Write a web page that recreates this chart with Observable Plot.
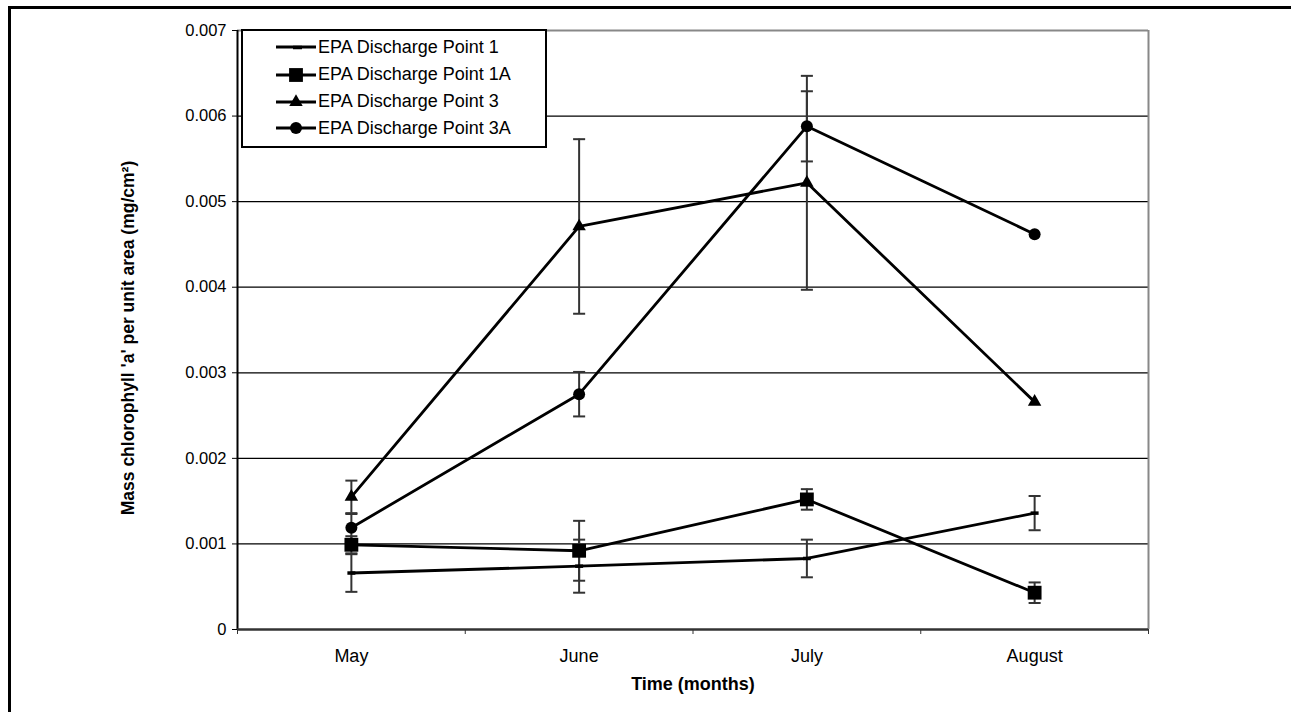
<!DOCTYPE html>
<html><head><meta charset="utf-8">
<script src="https://cdn.jsdelivr.net/npm/d3@7"></script>
<script src="https://cdn.jsdelivr.net/npm/@observablehq/plot@0.6"></script>
<style>
body{margin:0;background:#fff;font-family:"Liberation Sans",Arial,sans-serif;}
#wrap{position:relative;width:1291px;height:712px;overflow:hidden;background:#fff;}
#frame{position:absolute;left:8px;top:6px;width:1400px;height:800px;border-top:3px solid #000;border-left:3px solid #000;box-sizing:border-box;}
#chart{position:absolute;left:0;top:0;}
#legend{position:absolute;left:241px;top:29px;width:306px;height:119px;border:2.5px solid #000;background:#fff;box-sizing:border-box;}
.lrow{position:absolute;left:0;height:24px;display:flex;align-items:center;font-size:18px;color:#000;white-space:nowrap;}
.lrow svg{margin-left:33px;margin-right:2px;}
</style></head>
<body>
<div id="wrap"><div id="frame"></div><div id="chart"></div><div id="legend"></div></div>
<script>
const months = ["May", "June", "July", "August"];
const seriesNames = ["EPA Discharge Point 1", "EPA Discharge Point 1A", "EPA Discharge Point 3", "EPA Discharge Point 3A"];
const p1 = [0.00066, 0.00074, 0.00083, 0.00136];
const p1Err = [0.00022, 0.00031, 0.00022, 0.00020];
const p1A = [0.00099, 0.00092, 0.00152, 0.00043];
const p1AErr = [0.00010, 0.00035, 0.00012, 0.00012];
const p3 = [0.00155, 0.00471, 0.00522, 0.00266];
const p3Err = [0.00019, 0.00102, 0.00125, 0];
const p3A = [0.00119, 0.00275, 0.00588, 0.00462];
const p3AErr = [0.00016, 0.00026, 0.00041, 0];
const yTicks = [0, 0.001, 0.002, 0.003, 0.004, 0.005, 0.006, 0.007];
const yTitle = "Mass chlorophyll 'a' per unit area (mg/cm²)";
const xTitle = "Time (months)";

const seriesVals = [p1, p1A, p3, p3A];
const seriesErrs = [p1Err, p1AErr, p3Err, p3AErr];
const rows = [];
seriesNames.forEach((s, si) => months.forEach((m, mi) => rows.push({series: s, si, x: mi + 0.5, month: m, v: seriesVals[si][mi], e: seriesErrs[si][mi]})));
const errRows = rows.filter(d => d.e > 0);
const capRows = errRows.flatMap(d => [{x: d.x, y: d.v - d.e}, {x: d.x, y: d.v + d.e}]);

const hline = {draw(ctx, size){ const w = Math.sqrt(size); ctx.moveTo(-w/2, 0); ctx.lineTo(w/2, 0); }};
const rFor = [0, 7.8, 5.0, 6.0];
const fmt = d => d === 0 ? "0" : d.toFixed(3);

const chart = Plot.plot({
  width: 1291, height: 712,
  marginLeft: 237, marginRight: 143, marginTop: 30, marginBottom: 83,
  style: {fontFamily: "'Liberation Sans', Arial, sans-serif", background: "transparent", color: "#000"},
  x: {domain: [0, 4]},
  y: {domain: [0, 0.007]},
  marks: [
    Plot.ruleY(yTicks.filter(t => t > 0 && t < 0.007), {stroke: "#000", strokeWidth: 1.2}),
    Plot.ruleY([0.007], {stroke: "#888", strokeWidth: 2}),
    Plot.ruleX([4], {stroke: "#888", strokeWidth: 2}),
    Plot.axisY({ticks: yTicks, tickFormat: fmt, tickSize: 5, tickPadding: 6, fontSize: 16.5, label: null, stroke: "#000"}),
    Plot.axisX({ticks: [0, 1, 2, 3, 4], tickFormat: () => "", tickSize: 5, label: null, stroke: "#333"}),
    Plot.axisX({ticks: months.map((m, i) => i + 0.5), tickFormat: d => months[Math.round(d - 0.5)], tickSize: 0, tickPadding: 20, fontSize: 18, label: null}),
    Plot.ruleX([0], {stroke: "#000", strokeWidth: 2}),
    Plot.ruleY([0], {stroke: "#333", strokeWidth: 2.5}),
    Plot.ruleX(errRows, {x: "x", y1: d => d.v - d.e, y2: d => d.v + d.e, stroke: "#333", strokeWidth: 2}),
    Plot.dot(capRows, {x: "x", y: "y", symbol: hline, r: 6.8, stroke: "#333", strokeWidth: 2, fill: "none"}),
    Plot.line(rows, {x: "x", y: "v", z: "series", stroke: "#000", strokeWidth: 2.8}),
    Plot.dot(rows.filter(d => d.si === 0), {x: "x", y: "v", symbol: hline, r: 4.5, stroke: "#000", strokeWidth: 3.5}),
    Plot.dot(rows.filter(d => d.si === 1), {x: "x", y: "v", symbol: "square", r: rFor[1], fill: "#000", stroke: "none"}),
    Plot.dot(rows.filter(d => d.si === 2), {x: "x", y: "v", symbol: "triangle", r: rFor[2], fill: "#000", stroke: "none"}),
    Plot.dot(rows.filter(d => d.si === 3), {x: "x", y: "v", symbol: "circle", r: rFor[3], fill: "#000", stroke: "none"}),
    Plot.text([yTitle], {frameAnchor: "left", textAnchor: "middle", dx: -109, dy: 8, rotate: -90, fontWeight: "bold", fontSize: 17.5, text: d => d}),
    Plot.text([xTitle], {frameAnchor: "bottom", dy: 60, fontWeight: "bold", fontSize: 18, text: d => d})
  ]
});
document.getElementById("chart").appendChild(chart);

// legend
const legend = document.getElementById("legend");
const rowCenters = [16, 43.5, 70.5, 97];
seriesNames.forEach((name, i) => {
  const div = document.createElement("div");
  div.className = "lrow";
  div.style.top = (rowCenters[i] - 12) + "px";
  const ns = "http://www.w3.org/2000/svg";
  const svg = document.createElementNS(ns, "svg");
  svg.setAttribute("width", 40); svg.setAttribute("height", 20);
  const line = document.createElementNS(ns, "line");
  line.setAttribute("x1", 0); line.setAttribute("x2", 40); line.setAttribute("y1", 10); line.setAttribute("y2", 10);
  line.setAttribute("stroke", "#000"); line.setAttribute("stroke-width", 2.8);
  svg.appendChild(line);
  if (i === 0) {
    const d = document.createElementNS(ns, "line");
    d.setAttribute("x1", 17); d.setAttribute("x2", 26); d.setAttribute("y1", 10.5); d.setAttribute("y2", 10.5);
    d.setAttribute("stroke", "#000"); d.setAttribute("stroke-width", 3.5);
    svg.appendChild(d);
  } else {
    const sym = [null, d3.symbolSquare, d3.symbolTriangle, d3.symbolCircle][i];
    const p = document.createElementNS(ns, "path");
    p.setAttribute("d", d3.symbol(sym, Math.PI * rFor[i] * rFor[i])());
    p.setAttribute("transform", "translate(20,10)");
    p.setAttribute("fill", "#000");
    svg.appendChild(p);
  }
  div.appendChild(svg);
  const span = document.createElement("span");
  span.textContent = name;
  div.appendChild(span);
  legend.appendChild(div);
});
</script>
</body></html>
